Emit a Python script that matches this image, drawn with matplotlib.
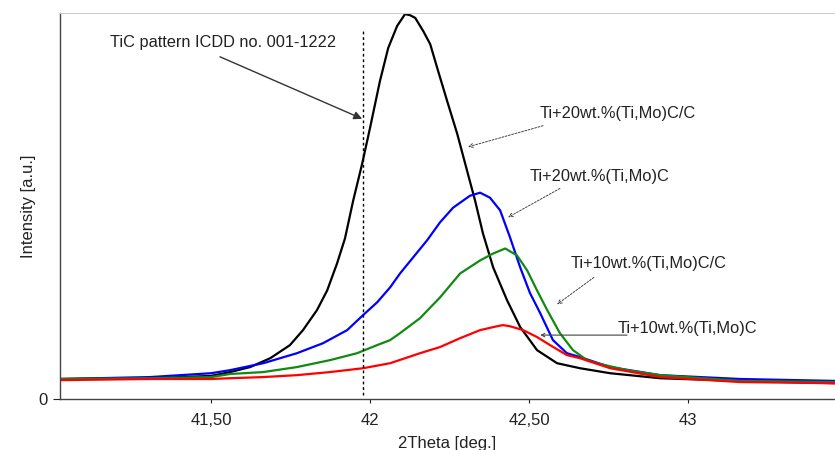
import numpy as np
import matplotlib.pyplot as plt

plt.rcParams['font.family'] = ['Liberation Sans', 'DejaVu Sans']

# 2Theta positions [deg] and intensities [a.u.] around the TiC (200) reflection
x_black = [41.025, 41.308, 41.500, 41.560, 41.623, 41.686, 41.748, 41.789, 41.833, 41.865,
           41.896, 41.921, 41.947, 41.975, 42.000, 42.031, 42.057, 42.085, 42.110, 42.126,
           42.142, 42.167, 42.189, 42.214, 42.242, 42.274, 42.305, 42.330, 42.355, 42.387,
           42.431, 42.472, 42.525, 42.588, 42.660, 42.755, 42.912, 43.164, 43.462]
y_black = [5.2, 5.4, 6.0, 7.0, 8.3, 10.6, 14.0, 17.9, 23.1, 28.2,
           35.2, 41.7, 51.6, 61.1, 70.5, 82.6, 91.2, 96.9, 100.0, 99.7,
           99.0, 95.6, 92.2, 85.2, 77.5, 68.9, 59.3, 51.6, 43.0, 34.2,
           25.6, 18.7, 12.7, 9.3, 8.0, 6.7, 5.4, 4.7, 4.1]

x_blue = [41.025, 41.308, 41.500, 41.560, 41.664, 41.770, 41.852, 41.928, 41.978, 42.022,
          42.063, 42.094, 42.179, 42.220, 42.261, 42.314, 42.346, 42.377, 42.409, 42.440,
          42.472, 42.503, 42.535, 42.575, 42.619, 42.660, 42.755, 42.912, 43.164, 43.462]
y_blue = [5.2, 5.7, 6.7, 7.5, 9.3, 11.9, 14.5, 17.9, 21.8, 25.1,
          29.0, 32.6, 41.2, 45.9, 49.7, 52.8, 53.6, 52.3, 49.0, 42.0,
          34.2, 27.5, 22.3, 15.3, 11.9, 10.9, 8.3, 6.2, 5.2, 4.7]

x_green = [41.025, 41.308, 41.500, 41.560, 41.664, 41.770, 41.874, 41.959, 42.022, 42.063,
           42.094, 42.157, 42.220, 42.283, 42.346, 42.387, 42.425, 42.462, 42.494, 42.525,
           42.557, 42.597, 42.638, 42.682, 42.723, 42.808, 42.912, 43.164, 43.462]
y_green = [5.2, 5.4, 5.7, 6.5, 7.0, 8.3, 10.1, 11.9, 14.0, 15.3,
           17.1, 21.0, 26.4, 32.6, 36.0, 37.8, 39.1, 37.3, 33.4, 28.2,
           23.1, 17.1, 12.7, 10.1, 9.1, 7.5, 6.2, 4.7, 4.4]

x_red = [41.025, 41.308, 41.500, 41.560, 41.664, 41.770, 41.874, 41.978, 42.063, 42.157,
         42.220, 42.283, 42.346, 42.399, 42.418, 42.440, 42.481, 42.525, 42.566, 42.619,
         42.660, 42.755, 42.912, 43.164, 43.462]
y_red = [4.9, 5.2, 5.2, 5.4, 5.7, 6.2, 7.0, 8.0, 9.3, 11.9,
         13.5, 15.8, 17.9, 18.9, 19.2, 18.9, 17.9, 16.1, 14.0, 11.4,
         10.6, 8.0, 5.7, 4.4, 4.1]

tic_ref = 41.978
x_ticks = [41.5, 42.0, 42.5, 43.0]
x_ticklabels = ['41,50', '42', '42,50', '43']

fig = plt.figure(figsize=(8.35, 4.5), dpi=100)
ax = fig.add_axes([0.0719, 0.1133, 0.9281, 0.858])

ax.plot(x_black, y_black, color='black', lw=1.6)
ax.plot(x_blue, y_blue, color='#0000ff', lw=1.6)
ax.plot(x_green, y_green, color='#108a10', lw=1.6)
ax.plot(x_red, y_red, color='#ff0000', lw=1.6)

ax.plot([tic_ref, tic_ref], [1.0, 95.6], color='black', lw=1.0, ls=(0, (2, 2)))

ax.set_xlim(41.025, 43.462)
ax.set_ylim(0, 100.3)
ax.set_xticks(x_ticks)
ax.set_xticklabels(x_ticklabels)
ax.set_yticks([0])
ax.tick_params(axis='both', labelsize=12, colors='#222222', length=5, width=0.8)
ax.tick_params(axis='x', length=3, pad=7)
ax.tick_params(axis='y', pad=4)

for s in ['left', 'bottom']:
    ax.spines[s].set_color('#444444')
    ax.spines[s].set_linewidth(1.0)
ax.spines['top'].set_color('#cccccc')
ax.spines['right'].set_visible(False)

ax.set_xlabel('2Theta [deg.]', fontsize=12, labelpad=6, color='#222222')
ax.set_ylabel('Intensity [a.u.]', fontsize=12, labelpad=2, color='#222222')

# sample labels
fs = 11.8
txt = dict(fontsize=fs, color='#222222', ha='center', va='center')
ax.text(41.539, 92.7, 'TiC pattern ICDD no. 001-1222', **txt)
ax.text(42.780, 74.1, 'Ti+20wt.%(Ti,Mo)C/C', **txt)
ax.text(42.723, 57.8, 'Ti+20wt.%(Ti,Mo)C', **txt)
ax.text(42.877, 35.2, 'Ti+10wt.%(Ti,Mo)C/C', **txt)
ax.text(42.998, 18.4, 'Ti+10wt.%(Ti,Mo)C', **txt)

# pointers from the labels to the curves
solid = dict(arrowstyle='-|>', color='#333333', lw=1.0, mutation_scale=12,
             shrinkA=0, shrinkB=0)
dotted = dict(arrowstyle='->', color='#444444', lw=0.7, ls=(0, (2, 1.5)),
              mutation_scale=7, shrinkA=0, shrinkB=0)
thin = dict(arrowstyle='->', color='#444444', lw=0.8, mutation_scale=6,
            shrinkA=0, shrinkB=0)

ax.annotate('', xy=(41.975, 72.8), xytext=(41.528, 88.9), arrowprops=solid)
ax.annotate('', xy=(42.308, 65.5), xytext=(42.544, 71.0), arrowprops=dotted)
ax.annotate('', xy=(42.434, 47.2), xytext=(42.597, 54.7), arrowprops=dotted)
ax.annotate('', xy=(42.588, 24.6), xytext=(42.704, 31.6), arrowprops=dotted)
ax.annotate('', xy=(42.535, 16.6), xytext=(42.808, 16.6), arrowprops=thin)

fig.savefig('out.png', dpi=100)
